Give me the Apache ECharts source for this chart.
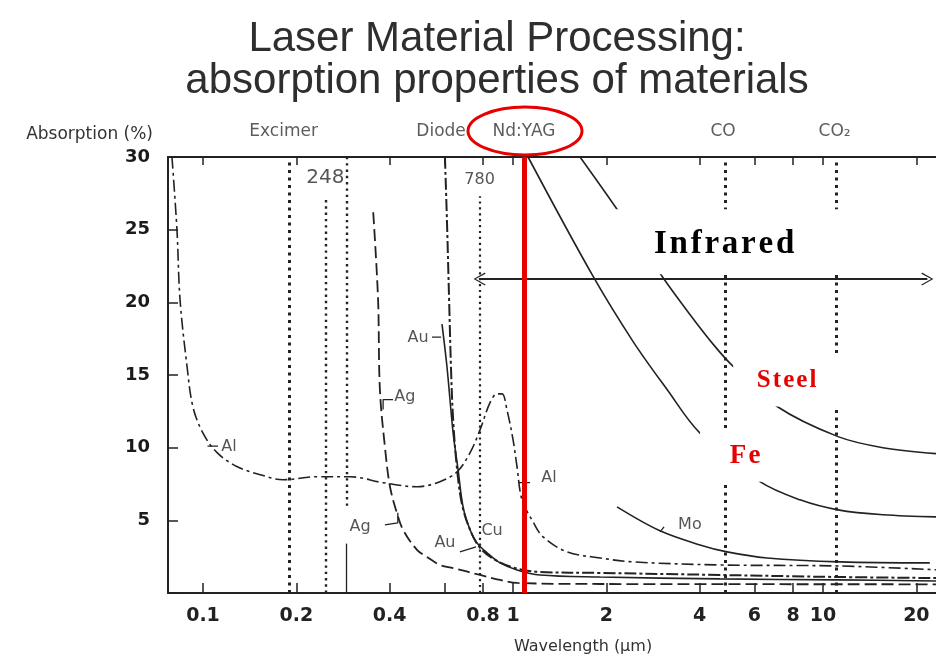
<!DOCTYPE html>
<html>
<head>
<meta charset="utf-8">
<script src="https://cdn.jsdelivr.net/npm/echarts@6/dist/echarts.min.js"></script>
<style>
html, body { margin: 0; padding: 0; background: #fff; }
#chart { width: 936px; height: 657px; }
</style>
</head>
<body>
<div id="chart"></div>
<script>
// Absorption (%) against wavelength (µm), one [wavelength, absorption] list per material
const alCurve = [[0.0794,30.0],[0.0824,25.0],[0.0843,20.2],[0.0888,15.6],[0.0928,12.8],[0.100,11.0],[0.111,9.66],[0.129,8.69],[0.153,8.14],[0.181,7.79],[0.233,8.0],[0.298,8.0],[0.381,7.59],[0.490,7.31],[0.581,7.66],[0.660,8.34],[0.727,9.66],[0.783,11.24],[0.843,13.1],[0.888,13.7],[0.922,13.7],[0.956,12.6],[1.0,10.55],[1.03,8.69],[1.069,6.41],[1.16,4.9],[1.25,3.86],[1.494,2.83],[1.909,2.41],[2.438,2.14],[4.653,1.93],[11.18,1.86],[23.14,1.6]];
const agCurve = [[0.354,26.2],[0.367,20.2],[0.372,14.0],[0.387,9.86],[0.401,7.31],[0.422,5.52],[0.442,4.34],[0.490,2.97],[0.528,2.48],[0.581,1.93],[0.641,1.72],[0.783,1.24],[0.908,0.9],[1.03,0.69],[1.909,0.62],[23.14,0.6]];
const auCurve = [[0.590,18.5],[0.612,15.6],[0.641,11.0],[0.665,8.48],[0.690,5.93],[0.727,4.34],[0.765,3.45],[0.825,2.76],[0.908,2.07],[1.03,1.59],[1.222,1.24],[1.909,1.10],[4.65,0.97],[11.2,0.9],[23.14,0.83]];
const cuCurve = [[0.603,30.0],[0.612,25.7],[0.622,20.2],[0.631,15.4],[0.641,11.9],[0.660,8.5],[0.685,6.07],[0.727,4.34],[0.783,3.1],[0.875,2.28],[1.015,1.72],[1.222,1.45],[1.909,1.38],[4.65,1.24],[11.2,1.1],[23.14,1.03]];
const moCurve = [[2.165,5.93],[2.98,4.28],[4.01,3.31],[4.90,2.83],[6.6,2.41],[11.35,2.14],[22.1,2.07]];
const feCurve = [[1.118,30.0],[1.811,21.8],[2.44,17.3],[3.14,14.0],[4.01,11.0],[6.26,7.66],[8.43,6.41],[11.18,5.72],[15.6,5.38],[23.14,5.24]];
const steelCurve = [[1.645,30.0],[2.165,26.4],[3.024,21.8],[3.72,19.17],[4.48,16.97],[5.13,15.59],[7.11,12.83],[11.18,10.76],[15.6,10.0],[23.14,9.59]];

// laser wavelengths (µm)
const excimerLines = [0.19, 0.248, 0.29];
const diodeLine = 0.78;
const ndYagLine = 1.09;
const coLine = 4.85;
const co2Line = 11.0;

// axis ranges and ticks
const xMin = 0.0771;
const xMax = 23.14;
const yMin = 0;
const yMax = 30;
const yStep = 5;
const xTickValues = [0.1, 0.2, 0.4, 0.6, 0.8, 1, 2, 4, 6, 8, 10, 20];
const xLabelValues = [0.1, 0.2, 0.4, 0.8, 1, 2, 4, 6, 8, 10, 20];

// material labels placed next to the curves, with their short leader strokes
const curveLabels = [
  ['Al', 0.1213, 10.07], ['Ag', 0.448, 13.5], ['Au', 0.494, 17.59], ['Ag', 0.321, 4.55],
  ['Au', 0.603, 3.45], ['Cu', 0.856, 4.28], ['Al', 1.306, 7.93], ['Mo', 3.72, 4.69]
];
const leaders = [
  [[0.1034,10.1],[0.1117,10.1]],
  [[0.410,13.31],[0.381,13.31],[0.381,12.62]],
  [[0.548,17.6],[0.586,17.6]],
  [[0.386,4.69],[0.425,4.83],[0.425,5.52]],
  [[0.674,2.83],[0.760,3.17]],
  [[1.038,7.59],[1.135,7.59]],
  [[2.98,4.21],[3.07,4.55]]
];
// laser names along the top edge
const headerLabels = [['Excimer', 0.182], ['Diode', 0.586], ['Nd:YAG', 1.085], ['CO', 4.76], ['CO\u2082', 10.9]];
const headerLevel = 31.72;

const ink = '#222';
const red = '#e60000';
const sans = 'DejaVu Sans';
const serif = 'Liberation Serif';
const spaced = s => s.split('').join('\u200A');
const clear = 'rgba(0,0,0,0)';

function curve(name, data, dash, width) {
  return {
    name, type: 'line', data, smooth: 0.35, symbol: 'none', z: 2,
    lineStyle: { color: ink, width: width || 1.6, type: dash || 'solid' },
    silent: true
  };
}

function vline(x, from, to, style) {
  return [{ coord: [x, from], lineStyle: style }, { coord: [x, to] }];
}

const dotted = (w) => ({ color: ink, width: w, type: [w, w + 1.5], cap: 'butt' });

const chevron = 'path://M50,0 L100,88 L91,93 L50,17 L9,93 L0,88 Z';

const series = [
  curve('Al', alCurve, [12, 4, 3, 4], 1.6),
  curve('Ag', agCurve, [12, 5], 1.8),
  curve('Au', auCurve, 'solid', 1.6),
  curve('Cu', cuCurve, [12, 3, 3, 3], 2),
  curve('Mo', moCurve, 'solid', 1.6),
  curve('Fe', feCurve, 'solid', 1.6),
  curve('Steel', steelCurve, 'solid', 1.6),
  {
    name: 'laser lines', type: 'line', data: [], z: 1, silent: true,
    markLine: {
      symbol: 'none', silent: true, animation: false, z: 3,
      label: { show: false },
      data: [
        vline(excimerLines[0], yMin, yMax, dotted(3)),
        vline(excimerLines[1], yMin, 27.3, dotted(2.4)),
        vline(excimerLines[2], 6.0, yMax, dotted(2.4)),
        vline(excimerLines[2], yMin, 3.4, { color: ink, width: 1.3, type: 'solid' }),
        vline(diodeLine, yMin, 27.3, dotted(2.2)),
        vline(coLine, yMin, yMax, dotted(3)),
        vline(co2Line, yMin, yMax, dotted(3))
      ]
    }
  },
  ...leaders.map(l => ({
    type: 'line', data: l, symbol: 'none', z: 3, silent: true,
    lineStyle: { color: ink, width: 1.3 }
  })),
  {
    name: 'callouts', type: 'line', data: [], z: 6, silent: true,
    markArea: {
      silent: true, animation: false, z: 6,
      itemStyle: { color: '#fff', opacity: 1 },
      data: [
        [{ coord: [2.09, 21.93], label: { show: true, position: 'inside', offset: [-50, 3], formatter: spaced('Infrared'),
            fontFamily: serif, fontWeight: 'bold', fontSize: 33, color: '#000' } }, { coord: [xMax, 26.4] }],
        [{ coord: [5.13, 12.83], label: { show: true, position: 'inside', formatter: spaced('Steel'),
            fontFamily: serif, fontWeight: 'bold', fontSize: 25, color: red } }, { coord: [11.35, 16.41] }],
        [{ coord: [4.01, 7.66], label: { show: true, position: 'inside', formatter: spaced('Fe'),
            fontFamily: serif, fontWeight: 'bold', fontSize: 27, color: red } }, { coord: [7.83, 11.24] }]
      ]
    },
    markLine: {
      silent: true, animation: false, z: 7,
      symbol: [chevron, chevron], symbolSize: [13, 12],
      label: { show: false },
      lineStyle: { color: ink, width: 1.8, type: 'solid' },
      itemStyle: { color: ink },
      data: [[{ coord: [diodeLine, 21.6] }, { coord: [21.7, 21.6] }]]
    }
  },
  {
    name: 'Nd:YAG', type: 'line', data: [], z: 8, silent: true,
    markLine: {
      symbol: 'none', silent: true, animation: false, z: 8,
      label: { show: false },
      data: [vline(ndYagLine, yMin, yMax, { color: red, width: 5, type: 'solid' })]
    }
  },
  {
    name: 'labels', type: 'scatter', symbolSize: 1, z: 7, silent: true, clip: false,
    itemStyle: { color: clear },
    data: curveLabels.map(([t, x, y]) => ({ value: [x, y], label: { formatter: t } }))
      .concat([
        { value: [excimerLines[1], 28.6], label: { formatter: '248', fontSize: 20 } },
        { value: [diodeLine, 28.4], label: { formatter: '780', fontSize: 16 } }
      ]),
    label: { show: true, position: 'inside', fontFamily: sans, fontSize: 16, color: '#2a2a2a' }
  },
  {
    name: 'headers', type: 'scatter', symbolSize: 1, z: 7, silent: true, clip: false,
    itemStyle: { color: clear },
    data: headerLabels.map(([t, x]) => ({ value: [x, headerLevel], label: { formatter: t } })),
    label: { show: true, position: 'inside', fontFamily: sans, fontSize: 17, color: '#333' }
  }
];

const fmtX = v => String(+(+v).toPrecision(3));

const chart = echarts.init(document.getElementById('chart'), null, { renderer: 'canvas' });
chart.setOption({
  animation: false,
  backgroundColor: '#fff',
  title: {
    text: 'Laser Material Processing:\nabsorption properties of materials',
    left: 492, top: 13, textAlign: 'center',
    textStyle: { fontFamily: 'Liberation Sans', fontSize: 42, lineHeight: 42, fontWeight: 'normal', color: '#2e2e2e' }
  },
  grid: { left: 168, right: 0, top: 157, bottom: 64, containLabel: false, outerBoundsMode: 'none' },
  xAxis: [
    {
      type: 'log', logBase: 10, min: xMin, max: xMax, position: 'bottom',
      axisLine: { show: true, lineStyle: { color: ink, width: 2 } },
      axisTick: { show: true, inside: true, length: 10, customValues: xTickValues, lineStyle: { color: ink, width: 1.5 } },
      minorTick: { show: false },
      axisLabel: { customValues: xLabelValues, formatter: fmtX, margin: 14, fontFamily: sans, fontWeight: 'bold', fontSize: 19, color: '#222' },
      splitLine: { show: false },
      name: 'Wavelength (\u00B5m)', nameLocation: 'middle', nameGap: 46,
      nameTextStyle: { fontFamily: sans, fontSize: 16, color: '#333', padding: [0, 0, 0, 62] }
    },
    {
      type: 'log', logBase: 10, min: xMin, max: xMax, position: 'top',
      axisLine: { show: true, lineStyle: { color: ink, width: 2 } },
      axisTick: { show: true, inside: true, length: 8, customValues: xTickValues, lineStyle: { color: ink, width: 1.5 } },
      minorTick: { show: false },
      axisLabel: { show: false },
      splitLine: { show: false }
    }
  ],
  yAxis: {
    type: 'value', min: yMin, max: yMax, interval: yStep,
    axisLine: { show: true, lineStyle: { color: ink, width: 2 } },
    axisTick: { show: true, inside: true, length: 10, lineStyle: { color: ink, width: 1.5 } },
    axisLabel: { margin: 18, fontFamily: sans, fontWeight: 'bold', fontSize: 18, color: '#1a1a1a', formatter: v => (v === 0 ? '' : String(v)) },
    splitLine: { show: false },
    name: 'Absorption (%)', nameLocation: 'end', nameGap: 14,
    nameTextStyle: { fontFamily: sans, fontSize: 17, color: '#333', align: 'right', padding: [0, 15, 0, 0] }
  },
  graphic: [
    { type: 'ellipse', shape: { cx: 525, cy: 131, rx: 57, ry: 24 }, style: { fill: 'none', stroke: red, lineWidth: 3 }, z: 10 }
  ],
  series
});
</script>
</body>
</html>
